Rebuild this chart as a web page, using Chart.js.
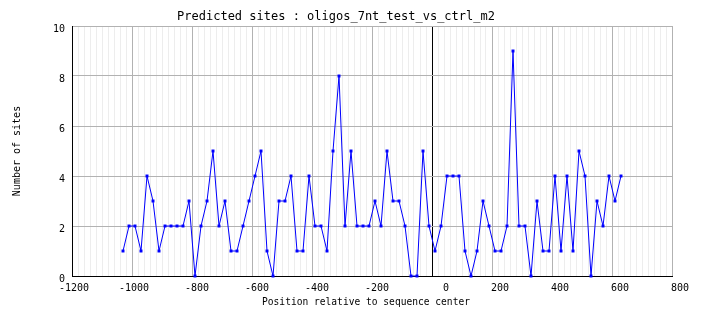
<!DOCTYPE html>
<html>
<head>
<meta charset="utf-8">
<title>Predicted sites</title>
<script src="https://cdn.jsdelivr.net/npm/chart.js@4/dist/chart.umd.min.js"></script>
<style>
  body { margin: 0; background: #fff; }
  #chart { display: block; }
</style>
</head>
<body>
<canvas id="chart" width="704" height="328"></canvas>
<script>
// window centres (bp relative to sequence center)
const positions = [
  -1030, -1010, -990, -970, -950, -930, -910, -890, -870, -850,
  -830, -810, -790, -770, -750, -730, -710, -690, -670, -650,
  -630, -610, -590, -570, -550, -530, -510, -490, -470, -450,
  -430, -410, -390, -370, -350, -330, -310, -290, -270, -250,
  -230, -210, -190, -170, -150, -130, -110, -90, -70, -50,
  -30, -10, 10, 30, 50, 70, 90, 110, 130, 150,
  170, 190, 210, 230, 250, 270, 290, 310, 330, 350,
  370, 390, 410, 430, 450, 470, 490, 510, 530, 550,
  570, 590, 610, 630
];

// number of predicted sites per window
const siteCounts = [
  1, 2, 2, 1, 4, 3, 1, 2, 2, 2,
  2, 3, 0, 2, 3, 5, 2, 3, 1, 1,
  2, 3, 4, 5, 1, 0, 3, 3, 4, 1,
  1, 4, 2, 2, 1, 5, 8, 2, 5, 2,
  2, 2, 3, 2, 5, 3, 3, 2, 0, 0,
  5, 2, 1, 2, 4, 4, 4, 1, 0, 1,
  3, 2, 1, 1, 2, 9, 2, 2, 0, 3,
  1, 1, 4, 1, 4, 1, 5, 4, 0, 3,
  2, 4, 3, 4
];

const xTickLabels = [-1200, -1000, -800, -600, -400, -200, 0, 200, 400, 600, 800];
const yTickLabels = [0, 2, 4, 6, 8, 10];

const titleText = 'Predicted sites : oligos_7nt_test_vs_ctrl_m2';
const xTitle = 'Position relative to sequence center';
const yTitle = 'Number of sites';

const mono = '"DejaVu Sans Mono", "Liberation Mono", monospace';

// white background + the three titles
const textPlugin = {
  id: 'siteTexts',
  beforeDraw(chart) {
    const ctx = chart.ctx;
    ctx.save();
    ctx.fillStyle = '#fff';
    ctx.fillRect(0, 0, chart.width, chart.height);
    ctx.restore();
  },
  afterDraw(chart) {
    const ctx = chart.ctx;
    ctx.save();
    ctx.fillStyle = '#000';
    ctx.textAlign = 'center';
    ctx.textBaseline = 'middle';
    ctx.font = '12px ' + mono;
    ctx.fillText(titleText, 336, 17);
    ctx.font = '9.6px ' + mono;
    ctx.fillText(xTitle, 366, 302);
    ctx.translate(17, 151);
    ctx.rotate(-Math.PI / 2);
    ctx.font = '10px ' + mono;
    ctx.fillText(yTitle, 0, 0);
    ctx.restore();
  }
};

new Chart(document.getElementById('chart'), {
  type: 'line',
  data: {
    datasets: [{
      data: positions.map((p, i) => ({ x: p, y: siteCounts[i] })),
      borderColor: '#0000ff',
      borderWidth: 1,
      pointStyle: 'rect',
      pointRadius: 2.1,
      pointBorderWidth: 0,
      pointBackgroundColor: '#0000ff',
      tension: 0,
      clip: false
    }]
  },
  options: {
    responsive: false,
    animation: false,
    devicePixelRatio: 1,
    layout: { padding: { top: 26, right: 32, left: 0, bottom: 0 } },
    plugins: {
      legend: { display: false },
      tooltip: { enabled: false }
    },
    scales: {
      x: {
        type: 'linear',
        min: -1200,
        max: 800,
        afterFit(scale) { scale.height = 52; },
        border: { color: '#000', width: 1 },
        grid: {
          drawTicks: false,
          color(ctx) {
            const v = ctx.tick.value;
            if (v === 0) return '#000';
            return xTickLabels.includes(v) ? '#b2b2b2' : '#ededed';
          }
        },
        ticks: {
          stepSize: 20,
          autoSkip: false,
          maxRotation: 0,
          align: 'end',
          labelOffset: 17,
          padding: 6,
          color: '#000',
          font: { family: mono, size: 10 },
          callback: v => (xTickLabels.includes(Math.round(v)) ? String(Math.round(v)) : '')
        }
      },
      y: {
        min: 0,
        max: 10,
        afterFit(scale) { scale.width = 72; },
        border: { color: '#000', width: 1 },
        grid: { drawTicks: false, color: '#b2b2b2' },
        ticks: {
          stepSize: 2,
          padding: 7,
          labelOffset: 3,
          color: '#000',
          font: { family: mono, size: 10 },
          callback: v => (yTickLabels.includes(v) ? String(v) : '')
        }
      }
    }
  },
  plugins: [textPlugin]
});
</script>
</body>
</html>
